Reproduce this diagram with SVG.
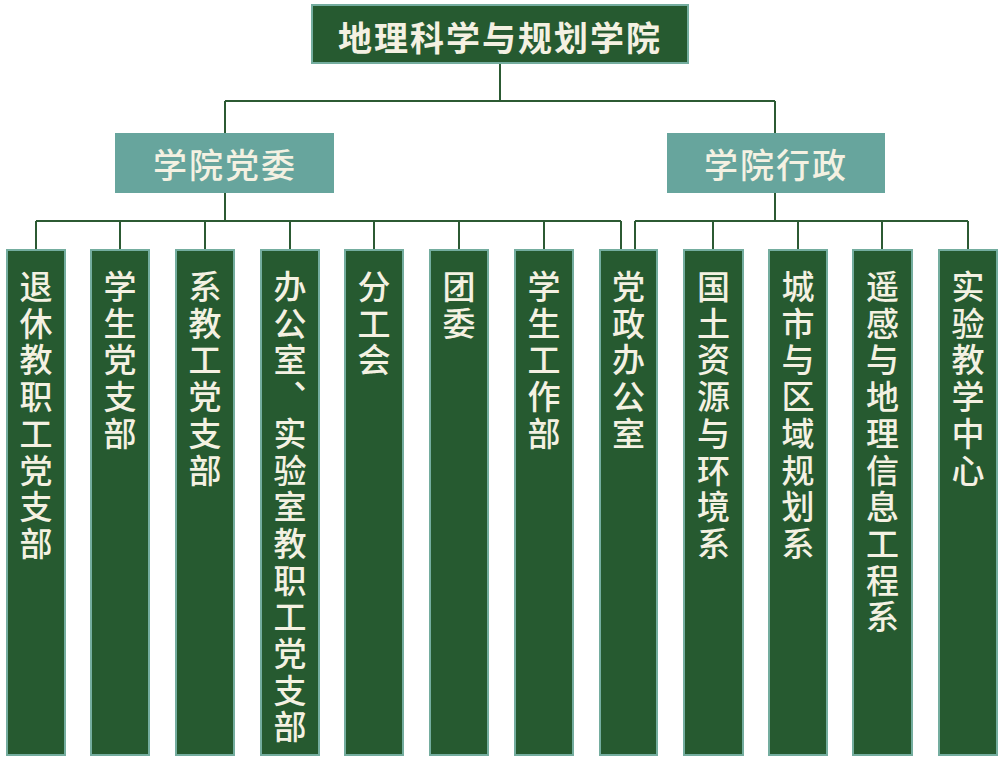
<svg xmlns="http://www.w3.org/2000/svg" width="1000" height="764" viewBox="0 0 1000 764">
<style>
.dk{fill:#265a30;stroke:#74ad9f;stroke-width:2}
.tl{fill:#67a59d}
.t{font-family:"Noto Sans CJK SC","Noto Sans CJK TC",sans-serif;fill:#f4f1e2;font-weight:500}
.b{font-weight:700}
.h{font-size:34px;letter-spacing:2px;text-anchor:middle;dominant-baseline:central}
.v{font-size:33px;letter-spacing:3.7px;writing-mode:vertical-rl;text-anchor:start}
.ln{fill:none;stroke:#2c5a33;stroke-width:2}
</style>
<rect width="1000" height="764" fill="#ffffff"/>
<g id="connectors" class="ln">
<path d="M500 63V101M225 101H775M225 101V133M775 101V133"/>
<path d="M225 193V221M36 221H621M36 221V250M120 221V250M205 221V250M290 221V250M374 221V250M459 221V250M544 221V250M621 221V250"/>
<path d="M775 193V221M635 221H968M635 221V250M713 221V250M798 221V250M882 221V250M968 221V250"/>
</g>
<g id="root"><rect class="dk" x="312" y="5" width="376" height="58"/><text class="t h b" x="500" y="36">地理科学与规划学院</text></g>
<g id="dangwei"><rect class="tl" x="115" y="133" width="219" height="60"/><text class="t h" x="225" y="163">学院党委</text></g>
<g id="xingzheng"><rect class="tl" x="667" y="133" width="218" height="60"/><text class="t h" x="776" y="163">学院行政</text></g>
<g id="c1"><rect class="dk" x="7" y="250" width="58" height="505"/><text class="t v" x="36" y="270">退休教职工党支部</text></g>
<g id="c2"><rect class="dk" x="91" y="250" width="58" height="505"/><text class="t v" x="120" y="270">学生党支部</text></g>
<g id="c3"><rect class="dk" x="176" y="250" width="58" height="505"/><text class="t v" x="205" y="270">系教工党支部</text></g>
<g id="c4"><rect class="dk" x="261" y="250" width="58" height="505"/><text class="t v" x="290" y="270">办公室、实验室教职工党支部</text></g>
<g id="c5"><rect class="dk" x="345" y="250" width="58" height="505"/><text class="t v" x="374" y="270">分工会</text></g>
<g id="c6"><rect class="dk" x="430" y="250" width="58" height="505"/><text class="t v" x="459" y="270">团委</text></g>
<g id="c7"><rect class="dk" x="515" y="250" width="58" height="505"/><text class="t v" x="544" y="270">学生工作部</text></g>
<g id="c8"><rect class="dk" x="600" y="250" width="57" height="505"/><text class="t v" x="628.5" y="270">党政办公室</text></g>
<g id="c9"><rect class="dk" x="684" y="250" width="59" height="505"/><text class="t v" x="713.5" y="270">国土资源与环境系</text></g>
<g id="c10"><rect class="dk" x="769" y="250" width="58" height="505"/><text class="t v" x="798" y="270">城市与区域规划系</text></g>
<g id="c11"><rect class="dk" x="853" y="250" width="59" height="505"/><text class="t v" x="882.5" y="270">遥感与地理信息工程系</text></g>
<g id="c12"><rect class="dk" x="939" y="250" width="58" height="505"/><text class="t v" x="968" y="270">实验教学中心</text></g>
</svg>
